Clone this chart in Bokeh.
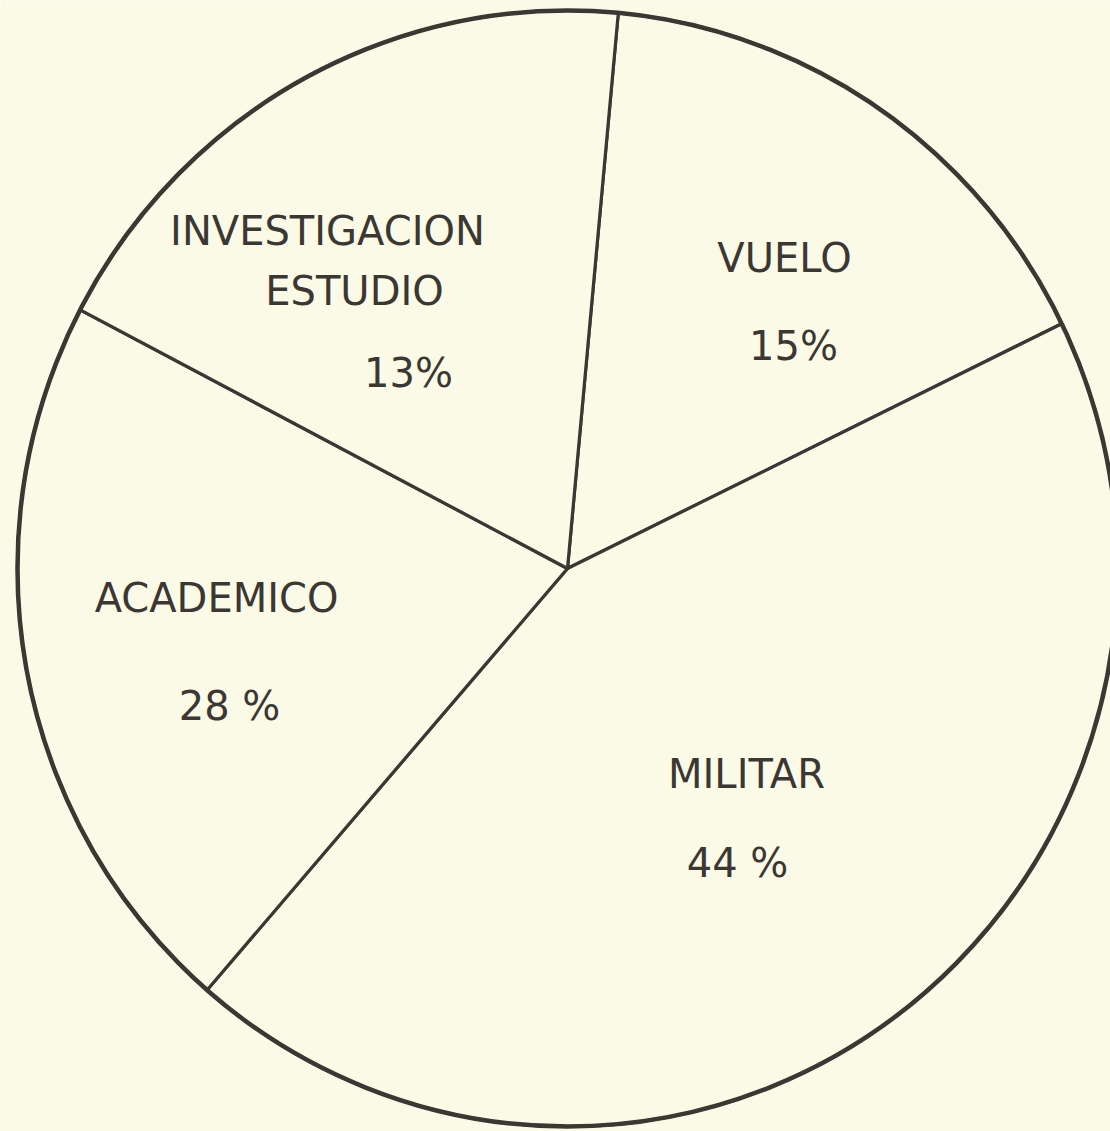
import numpy as np
from bokeh.plotting import figure
from bokeh.models import Range1d, ColumnDataSource
from bokeh.embed import file_html
from bokeh.resources import INLINE
from bokeh.core.properties import value

# ---- data ----
categories = ["VUELO", "MILITAR", "ACADEMICO", "INVESTIGACION\nESTUDIO"]
drawn_share = [16.3, 43.6, 21.3, 18.8]      # share of the pie as drawn (%)
label_pct = ["15%", "44 %", "28 %", "13%"]   # printed percentages
start_deg = 5.3                              # first boundary, clockwise from top

# ---- layout / style ----
W, H = 1110, 1131
BG = "#fbfae7"
INK = "#3b3733"
cx, cy = 567, 1131 - 568
rx, ry = 550, 558

p = figure(width=W, height=H, x_range=Range1d(0, W), y_range=Range1d(1131 - H, 1131),
           output_backend="svg", toolbar_location=None, min_border=0,
           x_axis_location=None, y_axis_location=None)
p.grid.visible = False
p.outline_line_color = None
p.background_fill_color = BG
p.border_fill_color = BG

# slices as elliptical wedges built from the shares
cum = np.cumsum([0] + drawn_share)
xs, ys = [], []
for i in range(len(drawn_share)):
    a0 = np.radians(start_deg + cum[i] * 3.6)
    a1 = np.radians(start_deg + cum[i + 1] * 3.6)
    t = np.linspace(a0, a1, 200)
    xs.append([cx] + list(cx + rx * np.sin(t)) + [cx])
    ys.append([cy] + list(cy + ry * np.cos(t)) + [cy])
p.patches(xs=xs, ys=ys, fill_color=BG, line_color=INK, line_width=3.2,
          line_join="round")
# outer rim a little heavier
p.ellipse(x=[cx], y=[cy], width=[2 * rx], height=[2 * ry], fill_color=None,
          line_color=INK, line_width=4.5)

# labels: (x, baseline-y in page pixels)
name_pos = {"VUELO": [(784, 257)],
            "MILITAR": [(746, 773)],
            "ACADEMICO": [(216, 597)],
            "INVESTIGACION\nESTUDIO": [(327, 230), (354, 290)]}
pct_pos = [(793, 345), (737, 862), (229, 705), (408, 372)]

tx, ty, tt = [], [], []
for cat in categories:
    for line, (x, y) in zip(cat.split("\n"), name_pos[cat]):
        tx.append(x); ty.append(1131 - y); tt.append(line)
for txt, (x, y) in zip(label_pct, pct_pos):
    tx.append(x); ty.append(1131 - y); tt.append(txt)

src = ColumnDataSource(dict(x=tx, y=ty, text=tt))
p.text(x="x", y="y", text="text", source=src, text_font=value("DejaVu Sans"),
       text_font_size="40px", text_align="center", text_baseline="alphabetic",
       text_color=INK)

open("out.html", "w").write(file_html(p, INLINE))
